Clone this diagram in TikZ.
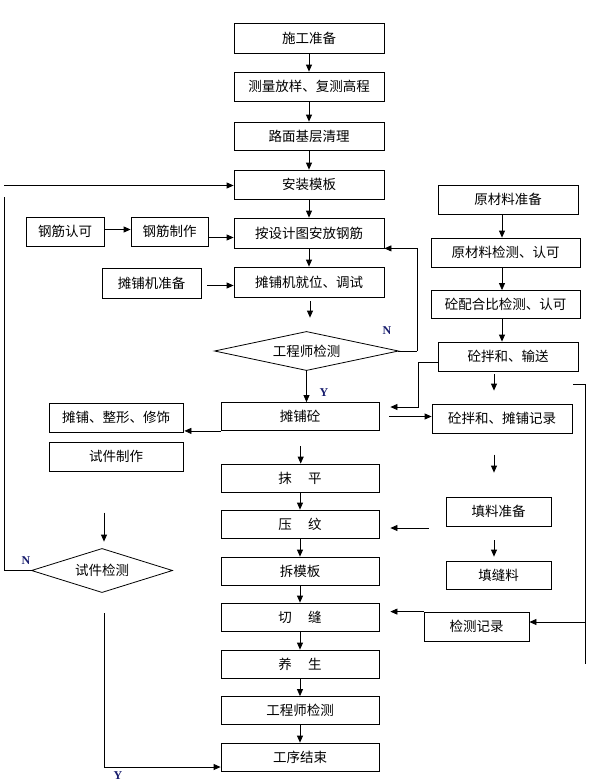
\documentclass[tikz,border=0pt]{standalone}
\usepackage{fontspec}
\setmainfont{Liberation Serif}
\newfontfamily\cjk{Noto Sans CJK SC}
\usetikzlibrary{arrows.meta}
\definecolor{lblblue}{RGB}{25,30,110}
\begin{document}
\begin{tikzpicture}[x=1pt,y=-1pt,
  line width=0.8pt,
  box/.style={draw,inner sep=0pt,font=\cjk\fontsize{13.5}{14}\selectfont},
  dtext/.style={draw=none,inner sep=0pt,font=\cjk\fontsize{13.5}{14}\selectfont},
  arr/.style={-{Triangle[length=7pt,width=6pt]}},
  yn/.style={font=\fontsize{12}{12}\selectfont\bfseries,text=lblblue,inner sep=0pt}
]
\useasboundingbox (0,0) rectangle (589,782);
% main top column
\node[box,minimum width=150pt,minimum height=30pt] (a1) at (309,38) {施工准备};
\node[box,minimum width=150pt,minimum height=29pt] (a2) at (309,86.5) {测量放样、复测高程};
\node[box,minimum width=150pt,minimum height=28pt] (a3) at (309,136) {路面基层清理};
\node[box,minimum width=150pt,minimum height=29pt] (a4) at (309,184.5) {安装模板};
\node[box,minimum width=150pt,minimum height=30pt] (a5) at (309,233) {按设计图安放钢筋};
\node[box,minimum width=150pt,minimum height=30pt] (a6) at (309,282) {摊铺机就位、调试};
\node[dtext,minimum width=183pt,minimum height=38pt] (d1) at (306.5,351) {工程师检测};
\draw (d1.west) -- (d1.north) -- (d1.east) -- (d1.south) -- cycle;
% lower main column
\node[box,minimum width=158pt,minimum height=28pt] (b1) at (300,416.5) {摊铺砼};
\node[box,minimum width=158pt,minimum height=28pt] (b2) at (300,478) {抹\hspace{1.2em}平};
\node[box,minimum width=158pt,minimum height=28pt] (b3) at (300,524) {压\hspace{1.2em}纹};
\node[box,minimum width=158pt,minimum height=28pt] (b4) at (300,571) {拆模板};
\node[box,minimum width=158pt,minimum height=28pt] (b5) at (300,617) {切\hspace{1.2em}缝};
\node[box,minimum width=158pt,minimum height=28pt] (b6) at (300,664) {养\hspace{1.2em}生};
\node[box,minimum width=158pt,minimum height=28pt] (b7) at (300,710.5) {工程师检测};
\node[box,minimum width=158pt,minimum height=28pt] (b8) at (300,757) {工序结束};
% left boxes
\node[box,minimum width=78pt,minimum height=29pt] (c1) at (65,231.5) {钢筋认可};
\node[box,minimum width=77pt,minimum height=29pt] (c2) at (169.5,231.5) {钢筋制作};
\node[box,minimum width=99pt,minimum height=30pt] (c3) at (151.5,283) {摊铺机准备};
\node[box,minimum width=134pt,minimum height=29pt] (c4) at (116,417.5) {摊铺、整形、修饰};
\node[box,minimum width=134pt,minimum height=29pt] (c5) at (116,456.5) {试件制作};
\node[dtext,minimum width=140pt,minimum height=43pt] (d2) at (102,570.5) {试件检测};
\draw (d2.west) -- (d2.north) -- (d2.east) -- (d2.south) -- cycle;
% right boxes
\node[box,minimum width=140pt,minimum height=29pt] (r1) at (508,199.5) {原材料准备};
\node[box,minimum width=149pt,minimum height=29pt] (r2) at (505.5,252.5) {原材料检测、认可};
\node[box,minimum width=149pt,minimum height=28pt] (r3) at (505.5,304.5) {砼配合比检测、认可};
\node[box,minimum width=140pt,minimum height=29pt] (r4) at (508,356.5) {砼拌和、输送};
\node[box,minimum width=140pt,minimum height=29pt] (r5) at (502,418.5) {砼拌和、摊铺记录};
\node[box,minimum width=105pt,minimum height=29pt] (r6) at (498.5,511.5) {填料准备};
\node[box,minimum width=105pt,minimum height=28pt] (r7) at (498.5,575) {填缝料};
\node[box,minimum width=105pt,minimum height=29pt] (r8) at (476.5,626.5) {检测记录};
% labels
\node[yn] (n1) at (387,331) {N};
\node[yn] (y1) at (324,393) {Y};
\node[yn] (n2) at (26,561) {N};
\node[yn] (y2) at (118,776) {Y};
% free-end coordinates
\coordinate (L1) at (4,185.5);
\coordinate (L2) at (4,197);
\coordinate (NL) at (417,351);
\coordinate (RL) at (418,362);
\coordinate (RR) at (585,384);
\coordinate (YL) at (104,613);
\coordinate (YB) at (104,767);
% main column arrows
\draw[arr] (a1) -- (a2);
\draw[arr] (a2) -- (a3);
\draw[arr] (a3) -- (a4);
\draw[arr] (a4) -- (a5);
\draw[arr] (a5) -- (a6);
\draw[arr] ([xshift=1pt,yshift=-4pt]a6.south) -- ([xshift=3.5pt,yshift=14pt]d1.north);
\draw[arr] (d1.south) -- (d1.south |- b1.north);
\draw (d1.east) -- (NL);
\draw[arr] (NL) -- (NL |- a5.south east) -- (a5.south east);
\draw[arr] ([xshift=0.7pt,yshift=-15.5pt]b1.south) -- ([xshift=0.7pt]b2.north);
\draw[arr] (b2) -- (b3);
\draw[arr] (b3) -- (b4);
\draw[arr] (b4) -- (b5);
\draw[arr] (b5) -- (b6);
\draw[arr] (b6) -- (b7);
\draw[arr] (b7) -- (b8);
% left side
\draw[arr] (L1) -- (L1 -| a4.west);
\draw (L2) -- (L2 |- d2.west) -- (d2.west);
\draw[arr] ([yshift=2pt]c1.east) -- ([yshift=2pt]c2.west);
\draw[arr] ([yshift=-6pt]c2.east) -- ([yshift=-6pt]c2.east -| a5.west);
\draw[arr] ([xshift=6pt,yshift=-2.5pt]c3.east) -- ([yshift=-2.5pt]c3.east -| a6.west);
\draw[arr] (b1.south west) -- ([xshift=1pt]b1.south west -| c4.east);
\draw[arr] ([xshift=2pt,yshift=36pt]d2.north) -- ([xshift=2pt,yshift=7pt]d2.north);
\draw[arr] (YL) -- (YB) -- (YB -| b8.west);
% right side
\draw[arr] (r1.south -| 502,0) -- (r2.north -| 502,0);
\draw[arr] (r2.south -| 502,0) -- (r3.north -| 502,0);
\draw[arr] (r3.south -| 502,0) -- (r4.north -| 502,0);
\draw[arr] ([xshift=-14pt,yshift=-3pt]r4.south) -- ([xshift=-8pt,yshift=13pt]r5.north);
\draw[arr] ([yshift=-5.5pt]r4.west) -- (RL) -- (RL |- 0,407) -- ([xshift=11pt]b1.east |- 0,407);
\draw[arr] ([xshift=10pt]b1.east) -- (b1.east -| r5.west);
\draw ([xshift=1pt]r5.north east |- RR) -- (RR) -- (RR |- 0,664);
\draw[arr] (RR |- 0,622) -- (r8.east |- 0,622);
\draw[arr] (r8.north west) -- ([xshift=11pt]b5.east |- r8.north west);
\draw[arr] ([xshift=-4.5pt,yshift=42pt]r6.north) -- ([xshift=-4.5pt,yshift=24pt]r6.north);
\draw[arr] ([xshift=-4.5pt,yshift=-14pt]r6.south) -- ([xshift=-4.5pt,yshift=4pt]r7.north);
\draw[arr] ([xshift=-17pt,yshift=-16.5pt]r6.west) -- ([xshift=11pt,yshift=-4pt]b3.east);
\end{tikzpicture}
\end{document}
